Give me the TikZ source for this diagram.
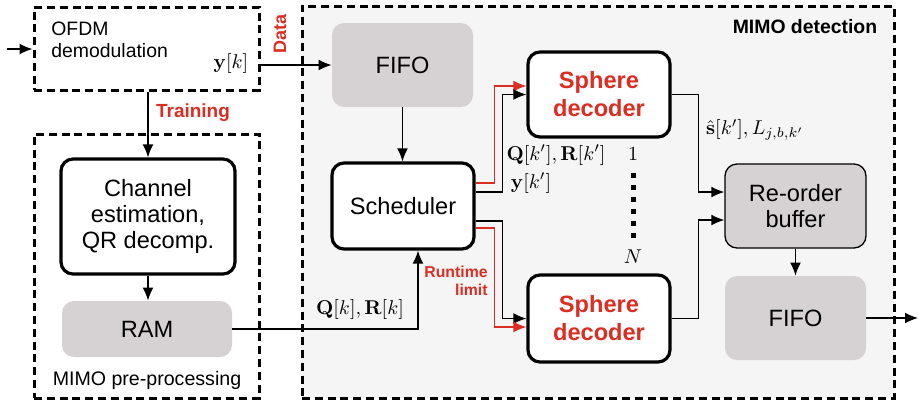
\documentclass[tikz,border=0pt]{standalone}
\usepackage[no-math]{fontspec}
\setmainfont{Liberation Sans}
\usepackage{amsmath}
\usetikzlibrary{arrows.meta,calc,positioning}
\definecolor{sdred}{RGB}{220,45,35}
\definecolor{boxgray}{RGB}{214,210,211}
\definecolor{bggray}{RGB}{245,245,245}
\tikzset{
  dashframe/.style={draw, line width=1.5pt, dash pattern=on 4pt off 2.4pt, inner sep=0pt},
  whiteblock/.style={draw, fill=white, line width=1.6pt, rounded corners=6pt, align=center,
    inner sep=0pt, font=\fontsize{11.8}{13}\selectfont},
  sphereblock/.style={whiteblock, text=sdred, font=\fontsize{11.8}{14}\selectfont\bfseries},
  grayblock/.style={fill=boxgray, rounded corners=6pt, align=center, inner sep=0pt,
    font=\fontsize{11.8}{13}\selectfont},
  conn/.style={line width=0.65pt, -{Latex[length=6.5pt,width=5.4pt]}},
  redconn/.style={conn, draw=sdred},
  redlabel/.style={text=sdred, font=\fontsize{9}{10}\selectfont\bfseries, align=right},
  mathlabel/.style={font=\fontsize{10}{12}\selectfont},
  dotline/.style={line width=2.5pt, dash pattern=on 2.5pt off 3.5pt},
}
\begin{document}
\begin{tikzpicture}[x=0.5pt,y=-0.5pt]
    \useasboundingbox (0,0) rectangle (923,404);

    % Frames
    \node[dashframe, fill=bggray, minimum width=296pt, minimum height=196pt] (det) at (598,202) {};
    \node[dashframe, minimum width=112.5pt, minimum height=41.5pt] (ofdm) at (146.5,48.5) {};
    \node[dashframe, minimum width=112.5pt, minimum height=132pt] (pre) at (146.5,266) {};

    \node[font=\fontsize{9.7}{11}\selectfont\bfseries] (detlbl) at (805,27) {MIMO detection};
    \node[font=\fontsize{9.8}{11}\selectfont] (prelbl) at (147,380) {MIMO pre-processing};
    \node[anchor=north west, align=left, inner sep=0pt, font=\fontsize{9.7}{11}\selectfont] (ofdmtxt) at (51,22) {OFDM\\demodulation};
    \node[mathlabel] (yk) at (231,63) {$\mathbf{y}[k]$};

    % Pre-processing
    \node[whiteblock, minimum width=87pt, minimum height=57.5pt] (chest) at (148,216.5) {Channel\\estimation,\\QR decomp.};
    \node[grayblock, minimum width=85pt, minimum height=28pt] (ram) at (147,329) {RAM};

    % Detection
    \node[grayblock, minimum width=70.5pt, minimum height=42pt] (fifoin) at (402.5,65) {FIFO};
    \node[whiteblock, minimum width=71pt, minimum height=43pt] (sched) at (403,206) {Scheduler};
    \node[sphereblock, minimum width=71pt, minimum height=42.5pt] (sdone) at (599,94.5) {Sphere\\decoder};
    \node[sphereblock, minimum width=71pt, minimum height=43.5pt] (sdn) at (599,318.5) {Sphere\\decoder};
    \node[grayblock, draw, line width=0.65pt, minimum width=70.5pt, minimum height=42pt] (reorder) at (795.5,206) {Re-order\\buffer};
    \node[grayblock, minimum width=70.5pt, minimum height=42pt] (fifoout) at (795.5,318) {FIFO};

    % Labels
    \node[redlabel, rotate=90] (datalbl) at (280,34) {Data};
    \node[redlabel, font=\fontsize{9.5}{10}\selectfont\bfseries] (trainlbl) at (193,113) {Training};
    \node[redlabel, font=\fontsize{7.9}{9}\selectfont\bfseries] (rtlbl) at (456,281) {Runtime\\limit};
    \node[mathlabel] (qrk) at (360,309) {$\mathbf{Q}[k],\mathbf{R}[k]$};
    \node[mathlabel] (qrkp) at (556,155) {$\mathbf{Q}[k'],\mathbf{R}[k']$};
    \node[mathlabel] (ykp) at (531,183) {$\mathbf{y}[k']$};
    \node[mathlabel] (one) at (633,154) {$1$};
    \node[mathlabel] (nlbl) at (633,257) {$N$};
    \node[mathlabel] (shat) at (755,130) {$\hat{\mathbf{s}}[k'],L_{j,b,k'}$};
    \draw[dotline] (633,172.5) -- (633,238);

    % Connectors
    \coordinate (in) at (7,49);
    \coordinate (out) at (918,318);
    \draw[conn] (in) -- (in -| ofdm.west);
    \draw[conn] (ofdm.east |- fifoin.west) -- (fifoin.west);
    \draw[conn] (chest.north |- ofdm.south) -- (chest.north);
    \draw[conn] (chest.south) -- (chest.south |- ram.north);
    \draw[conn] (ram.east) -| ($(sched.south)+(15,0)$);
    \draw[conn] (fifoin.south) -- (fifoin.south |- sched.north);

    \draw[redconn] ($(sched.east)+(0,-23)$) -- ++(19,0) |- ($(sdone.west)+(0,-8.5)$);
    \draw[conn] ($(sched.east)+(0,-14)$) -- ++(27,0) |- (sdone.west);
    \draw[conn] ($(sched.east)+(0,15)$) -- ++(27,0) |- (sdn.west);
    \draw[redconn] ($(sched.east)+(0,22)$) -- ++(19,0) |- ($(sdn.west)+(0,8.5)$);

    \draw[conn] (sdone.east) -- ++(27,0) |- ($(reorder.west)+(0,-14)$);
    \draw[conn] (sdn.east) -- ++(27,0) |- ($(reorder.west)+(0,14)$);
    \draw[conn] (reorder.south) -- (fifoout.north);
    \draw[conn] (fifoout.east) -- (out);

\end{tikzpicture}
\end{document}
